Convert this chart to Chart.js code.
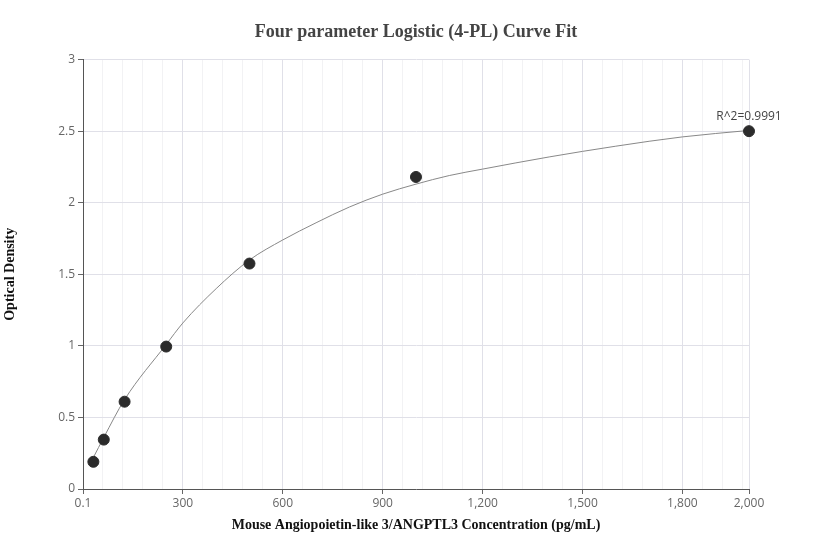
<!DOCTYPE html>
<html>
<head>
<meta charset="utf-8">
<script src="https://cdn.jsdelivr.net/npm/chart.js@4.4.1/dist/chart.umd.min.js"></script>
<style>
  html, body { margin: 0; padding: 0; background: #fff; }
  #wrap { width: 832px; height: 560px; }
</style>
</head>
<body>
<div id="wrap"><canvas id="curveChart"></canvas></div>
<script>
// standard points (concentration pg/mL -> OD)
const stdConc = [31.25, 62.5, 125, 250, 500, 1000, 2000];
const stdOD = [0.19, 0.345, 0.61, 0.995, 1.575, 2.18, 2.50];

// fitted curve
const fitConc = [31.25, 62.5, 125, 250, 300, 400, 500, 600, 700, 800, 900, 1000, 1100, 1200, 1400, 1600, 1800, 2000];
const fitOD = [0.22, 0.36, 0.625, 1.01, 1.16, 1.40, 1.60, 1.74, 1.86, 1.97, 2.06, 2.13, 2.19, 2.235, 2.32, 2.395, 2.46, 2.505];

// axes
const xMajorTicks = [0.1, 300, 600, 900, 1200, 1500, 1800, 2000];
const xMinorStep = 60;
const yTicks = [0, 0.5, 1, 1.5, 2, 2.5, 3];

const chartTitle = 'Four parameter Logistic (4-PL) Curve Fit';
const xTitle = 'Mouse Angiopoietin-like 3/ANGPTL3 Concentration (pg/mL)';
const yTitle = 'Optical Density';
const r2Label = 'R^2=0.9991';

const serifBold = { family: '"Liberation Serif", "Times New Roman", serif', weight: 'bold' };
const tickFont = { family: '"Open Sans", sans-serif', size: 12 };

// R^2 text above the last standard point
const r2Plugin = {
    id: 'r2Label',
    afterDatasetsDraw: (chart) => {
        const meta = chart.getDatasetMeta(1);
        const pt = meta.data[meta.data.length - 1];
        const ctx = chart.ctx;
        ctx.save();
        ctx.font = '12px "Open Sans", sans-serif';
        ctx.fillStyle = '#444';
        ctx.textAlign = 'center';
        ctx.textBaseline = 'middle';
        ctx.fillText(r2Label, pt.x, pt.y - 15);
        ctx.restore();
    }
};

new Chart(document.getElementById('curveChart').getContext('2d'), {
    type: 'scatter',
    data: {
        datasets: [{
            label: 'fit',
            data: fitConc.map((x, i) => ({ x: x, y: fitOD[i] })),
            showLine: true,
            borderColor: '#888',
            borderWidth: 1,
            pointRadius: 0,
            cubicInterpolationMode: 'monotone',
            order: 2
        }, {
            label: 'standards',
            data: stdConc.map((x, i) => ({ x: x, y: stdOD[i] })),
            showLine: false,
            backgroundColor: '#2b2b2b',
            borderColor: '#2b2b2b',
            pointRadius: 5.5,
            clip: false,
            order: 1
        }]
    },
    options: {
        responsive: true,
        maintainAspectRatio: false,
        animation: false,
        layout: { padding: 0 },
        plugins: {
            legend: { display: false },
            tooltip: { enabled: false },
            title: {
                display: true,
                text: chartTitle,
                color: '#444',
                font: { ...serifBold, size: 18 },
                padding: { top: 22, bottom: 16 }
            }
        },
        scales: {
            x: {
                type: 'linear',
                min: 0.1,
                max: 2000,
                afterBuildTicks: (scale) => {
                    const vals = [...xMajorTicks];
                    for (let v = xMinorStep; v < 2000; v += xMinorStep) {
                        if (!xMajorTicks.includes(v)) vals.push(v);
                    }
                    vals.sort((a, b) => a - b);
                    scale.ticks = vals.map(v => ({ value: v }));
                },
                afterFit: (scale) => { scale.height = 71; },
                ticks: {
                    autoSkip: false,
                    maxRotation: 0,
                    color: '#666',
                    font: tickFont,
                    padding: 2,
                    callback: (value) => xMajorTicks.includes(value) ? value.toLocaleString('en-US') : ''
                },
                grid: {
                    color: (ctx) => ctx.tick && xMajorTicks.includes(ctx.tick.value) ? '#e0e0e8' : '#f2f2f4',
                    tickColor: (ctx) => ctx.tick && xMajorTicks.includes(ctx.tick.value) ? '#666' : 'rgba(0,0,0,0)',
                    tickLength: 5
                },
                border: { color: '#555', width: 1 },
                title: {
                    display: true,
                    text: xTitle,
                    color: '#111',
                    font: { ...serifBold, size: 14 },
                    padding: { top: 0, bottom: 26 }
                }
            },
            y: {
                min: 0,
                max: 3,
                afterBuildTicks: (scale) => {
                    scale.ticks = yTicks.map(v => ({ value: v }));
                },
                afterFit: (scale) => { scale.width = 83; },
                ticks: {
                    color: '#666',
                    font: tickFont,
                    padding: 3,
                    callback: (value) => String(value)
                },
                grid: {
                    color: '#e0e0e8',
                    tickColor: '#666',
                    tickLength: 5
                },
                border: { color: '#555', width: 1 },
                title: {
                    display: true,
                    text: yTitle,
                    color: '#111',
                    font: { ...serifBold, size: 14 },
                    padding: { top: 2, bottom: 0 }
                }
            },
            // empty right axis, only keeps the right margin so the title stays centred
            yRight: {
                position: 'right',
                min: 0,
                max: 3,
                afterFit: (scale) => { scale.width = 83; },
                ticks: { display: false },
                grid: { display: false, drawTicks: false },
                border: { display: false }
            }
        }
    },
    plugins: [r2Plugin]
});
</script>
</body>
</html>
